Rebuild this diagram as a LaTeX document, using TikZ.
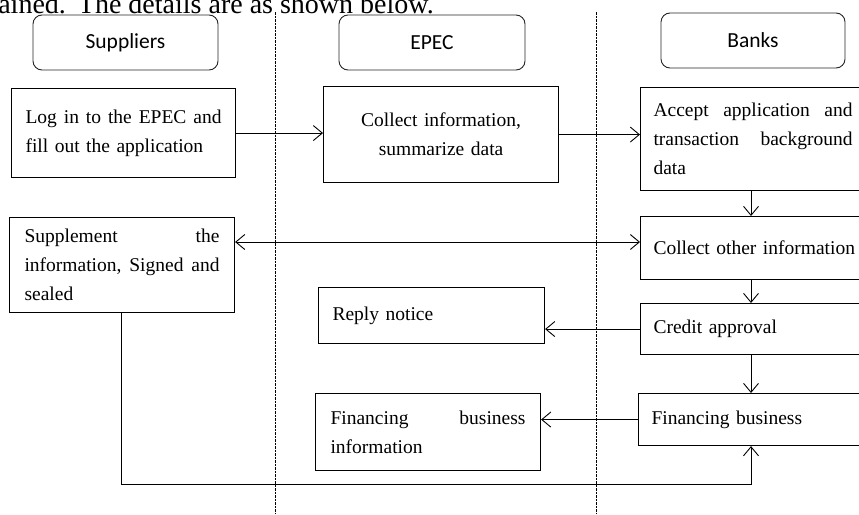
\documentclass[tikz,border=0pt]{standalone}
\usepackage{fontspec}
\setmainfont{Liberation Serif}
\newfontfamily\hdrfont{Carlito}
\usetikzlibrary{arrows.meta}
\newcommand\jl[2]{\leavevmode\hbox to #1pt{#2}}
\begin{document}
\begin{tikzpicture}[x=1pt,y=-1pt,
  hdr/.style={draw=black!85,line width=0.9pt,rounded corners=9pt,inner sep=0pt,
    font=\hdrfont\fontsize{21.5}{25}\selectfont},
  box/.style={draw,line width=1.1pt,inner ysep=0pt,inner xsep=0pt,anchor=north west,
    align=left,font=\fontsize{19.5}{29}\selectfont},
  arr/.style={line width=0.9pt,-{Straight Barb[length=9pt,width=15pt]}},
  dl/.style={line width=0.9pt,dash pattern=on 2.5pt off 1pt}]
\clip (0,0) rectangle (859,514);
\fill[white] (0,0) rectangle (859,514);
% cropped caption text
\node[anchor=base east,inner sep=0pt,font=\fontsize{28}{32}\selectfont] (cap) at (434,13.5) {ained.\hspace{12pt}The details are as shown below.};
% lane separators
\draw[dl] (275,12) -- (275,514);
\draw[dl] (596,12) -- (596,514);
% headers
\node[hdr,minimum width=185pt,minimum height=55pt] (hs) at (125.5,42.5) {Suppliers};
\node[hdr,minimum width=186pt,minimum height=55pt] (he) at (432,42.5) {EPEC};
\node[hdr,minimum width=184pt,minimum height=55pt] (hb) at (753,40.5) {Banks};
% boxes
\node[box,minimum width=224pt,minimum height=89pt,text width=196pt] (b1) at (11,88)
  {\jl{196}{Log\hfill in\hfill to\hfill the\hfill EPEC\hfill and}\\fill out the application};
\node[box,minimum width=235pt,minimum height=96pt,text width=200pt,align=center] (b2) at (323,86)
  {Collect information,\\summarize data};
\node[box,minimum width=225pt,minimum height=103pt,text width=199pt] (b3) at (640,87)
  {\jl{199}{Accept\hfill application\hfill and}\\\jl{199}{transaction\hfill background}\\data};
\node[box,minimum width=225pt,minimum height=95pt,text width=195pt] (sup) at (9,217)
  {\jl{195}{Supplement\hfill the}\\\jl{195}{information,\hfill Signed\hfill and}\\sealed};
\node[box,minimum width=225pt,minimum height=63pt,text width=199pt] (b4) at (640,216)
  {\mbox{Collect other information}};
\node[box,minimum width=226pt,minimum height=56pt,text width=198pt] (reply) at (318,287)
  {Reply notice};
\node[box,minimum width=225pt,minimum height=51pt,text width=199pt] (credit) at (640,303)
  {Credit approval};
\node[box,minimum width=225pt,minimum height=77pt,text width=195pt] (finfo) at (315,393)
  {\jl{195}{Financing\hfill business}\\information};
\node[box,minimum width=225pt,minimum height=52pt,text width=199pt] (fbus) at (638,393)
  {Financing business};
% connectors
\coordinate (cx) at (751,0);
\coordinate (r2) at (0,242);
\coordinate (lp) at (121,484);
\draw[arr] (b1.east) -- (b1.east -| b2.west);
\draw[arr] (b2.east) -- (b2.east -| b3.west);
\draw[arr] (b3.south -| cx) -- (b4.north -| cx);
\draw[arr] (b4.south -| cx) -- (credit.north -| cx);
\draw[arr] (credit.south -| cx) -- (fbus.north -| cx);
\draw[line width=0.9pt,{Straight Barb[length=9pt,width=15pt]}-{Straight Barb[length=9pt,width=15pt]}]
  (sup.east |- r2) -- (b4.west |- r2);
\draw[arr] (credit.west) -- (credit.west -| reply.east);
\draw[arr] (fbus.west) -- (fbus.west -| finfo.east);
\draw[arr] (sup.south -| lp) -- (lp) -| (fbus.south -| cx);
\end{tikzpicture}
\end{document}
